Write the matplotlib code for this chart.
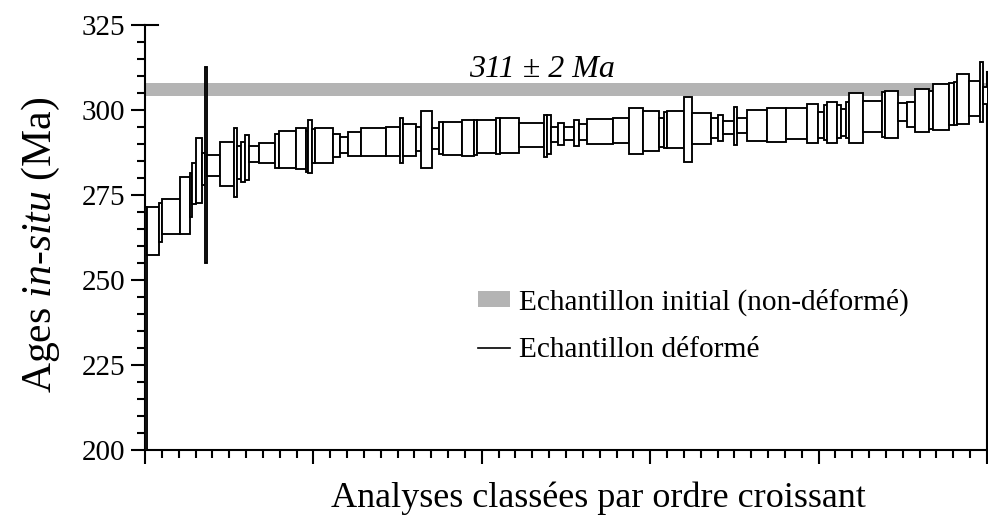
import numpy as np
import matplotlib.pyplot as plt
from matplotlib.patches import Rectangle, Patch
from matplotlib.lines import Line2D

plt.rcParams["font.family"] = ["Liberation Serif", "DejaVu Serif"]
plt.rcParams["mathtext.fontset"] = "custom"
plt.rcParams["mathtext.rm"] = "Liberation Serif"
plt.rcParams["mathtext.it"] = "Liberation Serif:italic"

# analyses sorted by increasing age: box width along the rank axis, age range (Ma)
widths = [0.10, 0.73, 0.20, 1.05, 0.59, 0.14, 0.22, 0.34, 0.21, 0.08,
          0.79, 0.83, 0.16, 0.24, 0.26, 0.26, 0.59, 0.93, 0.26, 0.99,
          0.59, 0.14, 0.20, 0.20, 1.09, 0.36, 0.53, 0.74, 1.48, 0.85,
          0.20, 0.74, 0.31, 0.67, 0.36, 0.24, 1.17, 0.71, 0.16, 1.15,
          0.24, 1.09, 1.48, 0.20, 0.24, 0.42, 0.37, 0.55, 0.30, 0.50,
          1.52, 0.99, 0.81, 0.93, 0.30, 0.20, 0.99, 0.50, 1.15, 0.40,
          0.27, 0.65, 0.20, 0.59, 1.19, 1.13, 1.25, 0.65, 0.33, 0.20,
          0.59, 0.26, 0.28, 0.20, 0.79, 1.15, 0.20, 0.75, 0.53, 0.45,
          0.87, 0.20, 0.99, 0.26, 0.20, 0.69, 0.69, 0.14, 0.34]
age_low = [195.0, 257.4, 261.1, 263.5, 263.5, 268.6, 272.4, 272.6, 277.9, 255.0,
           280.7, 277.6, 274.5, 279.6, 278.9, 279.3, 284.8, 284.3, 282.9, 282.9,
           282.6, 281.9, 281.6, 284.3, 284.3, 286.3, 287.3, 286.6, 286.6, 286.6,
           284.5, 286.4, 288.0, 282.9, 288.4, 287.0, 286.9, 286.5, 286.8, 287.3,
           287.1, 287.3, 289.0, 286.3, 287.1, 290.5, 289.7, 291.2, 289.5, 291.2,
           290.0, 290.2, 287.1, 288.0, 289.2, 288.7, 288.7, 284.6, 289.9, 291.7,
           290.9, 292.9, 289.7, 293.3, 290.9, 290.5, 291.6, 290.2, 291.7, 291.2,
           290.4, 291.7, 292.4, 291.9, 290.4, 293.6, 292.1, 291.7, 296.8, 295.1,
           293.6, 294.4, 294.1, 295.6, 295.7, 295.8, 298.2, 296.6, 301.7]
age_high = [271.6, 271.6, 272.6, 273.8, 280.4, 281.4, 284.5, 291.9, 287.3, 312.6,
            286.8, 290.5, 294.6, 289.5, 290.7, 292.7, 289.4, 290.2, 292.9, 293.9,
            294.6, 293.9, 297.1, 294.3, 294.6, 292.9, 292.0, 293.6, 294.6, 295.1,
            297.6, 296.0, 295.1, 299.8, 294.6, 296.4, 296.5, 297.1, 297.0, 297.1,
            297.6, 297.6, 296.3, 298.4, 298.5, 295.1, 296.3, 295.1, 297.1, 295.8,
            297.5, 297.6, 300.5, 299.8, 297.6, 299.3, 299.8, 303.9, 299.2, 297.7,
            298.5, 296.9, 301.0, 297.6, 300.0, 300.5, 300.5, 301.8, 299.5, 301.5,
            302.3, 301.5, 300.3, 302.3, 304.9, 302.6, 305.2, 305.7, 302.0, 302.4,
            306.2, 305.6, 307.6, 307.9, 308.2, 310.5, 308.5, 314.0, 306.7]

# reference age of the undeformed sample
band_low, band_high = 304.2, 307.9
band_text = "311 ± 2 Ma"
legend_labels = ["Echantillon initial (non-déformé)", "Echantillon déformé"]

fig = plt.figure(figsize=(9.88, 5.18), dpi=100)
ax = fig.add_axes([145 / 988, 68 / 518, 842 / 988, 425 / 518])

ax.axhspan(band_low, band_high, color="#b4b4b4", lw=0, zorder=1)

lefts = np.concatenate(([0.0], np.cumsum(widths)[:-1]))
for x, w, lo, hi in zip(lefts, widths, age_low, age_high):
    ax.add_patch(Rectangle((x, lo), w, hi - lo, facecolor="white",
                           edgecolor="black", lw=1.35, zorder=3))

ax.text(23.6, 311.9, band_text, ha="center", va="center",
        fontsize=23, style="italic")

ax.set_xlim(0, 50)
ax.set_ylim(200, 325)
ax.set_xticks(np.arange(0, 51, 10))
ax.set_xticks(np.arange(0, 51, 1), minor=True)
ax.set_yticks(np.arange(200, 326, 25))
ax.set_yticks(np.arange(200, 326, 5), minor=True)
ax.tick_params(which="major", direction="out", length=10, width=1.5,
               labelsize=21, pad=4, labelbottom=False)
ax.tick_params(which="minor", direction="out", length=5.5, width=1.5)

for side in ["left", "bottom", "right", "top"]:
    ax.spines[side].set_linewidth(1.5)
ax.spines["top"].set_bounds(0, 0.8)
ax.spines["right"].set_bounds(200, 311.2)

ax.set_ylabel(r"Ages $\mathit{in}$-$\mathit{situ}$ (Ma)", fontsize=30)
ax.yaxis.set_label_coords(-0.098, 0.482)
ax.set_xlabel("Analyses classées par ordre croissant", fontsize=26, va="top")
ax.xaxis.set_label_coords(0.539, -0.073)

handles = [Patch(facecolor="#b4b4b4", edgecolor="none"),
           Line2D([], [], color="black", lw=1.2)]
ax.legend(handles, legend_labels, loc="upper left", bbox_to_anchor=(0.395, 0.38),
          frameon=False, fontsize=21.2, borderpad=0, borderaxespad=0,
          handlelength=1.1, handleheight=0.42, handletextpad=0.32,
          labelspacing=0.72)

fig.savefig("out.png", dpi=100)
